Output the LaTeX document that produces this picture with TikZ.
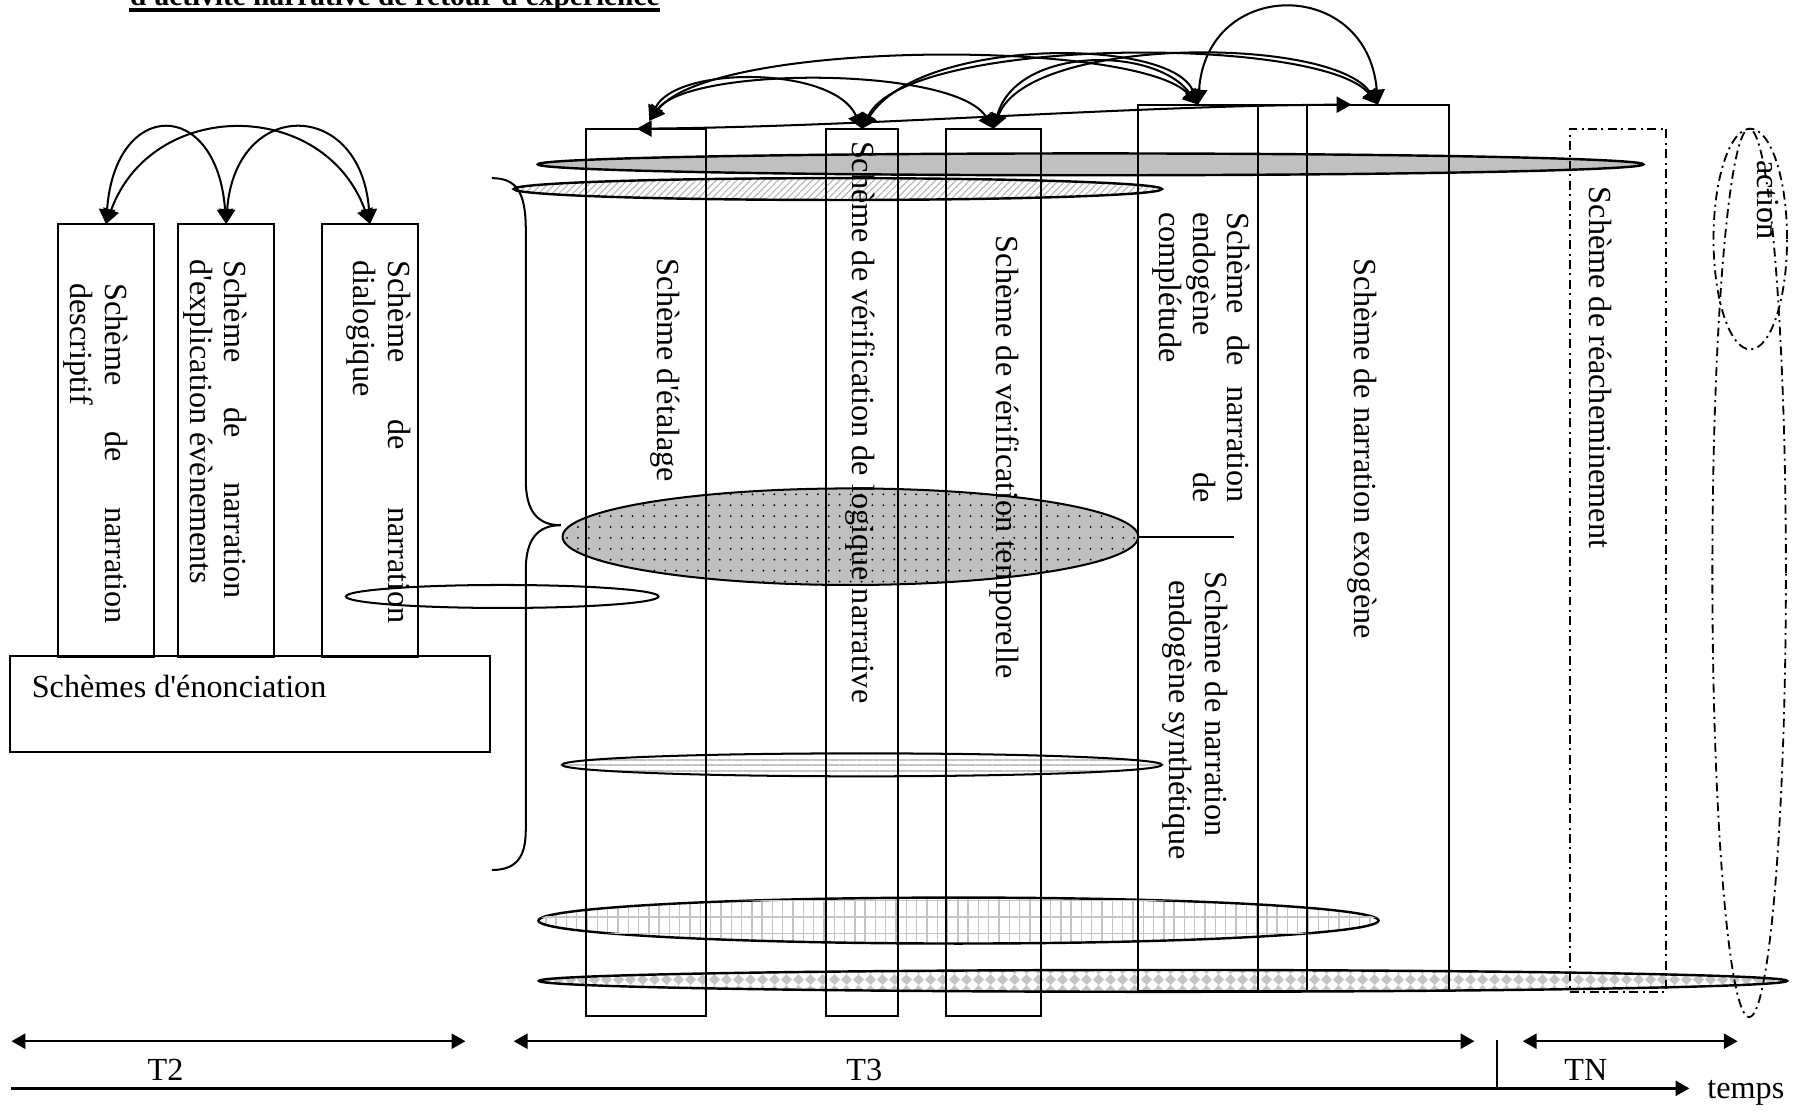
\documentclass[tikz,border=0pt]{standalone}
\usepackage{fontspec}
\setmainfont{Liberation Serif}[Ligatures=TeXOff]
\usetikzlibrary{arrows.meta,patterns,patterns.meta}
\definecolor{fillgray}{RGB}{192,192,192}
\definecolor{patgray}{RGB}{196,196,196}
\definecolor{hatchgray}{RGB}{185,185,185}
\newcommand\myfnt{\fontsize{7.97pt}{9.2pt}\selectfont}
\newcommand\mytitlefnt{\fontsize{7.27pt}{8pt}\selectfont\bfseries}
\pgfdeclarepatternformonly{mydiamonds}{\pgfqpoint{0pt}{0pt}}{\pgfqpoint{2.85pt}{2.7pt}}{\pgfqpoint{2.85pt}{2.7pt}}{%
  \pgfpathmoveto{\pgfqpoint{1.425pt}{0pt}}%
  \pgfpathlineto{\pgfqpoint{2.85pt}{1.35pt}}%
  \pgfpathlineto{\pgfqpoint{1.425pt}{2.7pt}}%
  \pgfpathlineto{\pgfqpoint{0pt}{1.35pt}}%
  \pgfpathclose\pgfusepath{fill}}
\tikzset{
  boxnode/.style={draw, line width=0.5pt, inner sep=0pt, outer sep=0pt},
  dashdotline/.style={line width=0.45pt, dash pattern=on 2.2pt off 1.1pt on 0.5pt off 1.1pt},
  vtxt/.style={rotate=-90, anchor=base west, inner sep=0pt, font=\myfnt},
  htxt/.style={inner sep=0pt, font=\myfnt},
  arcarrow/.style={line width=0.5pt, {Triangle[length=1.3mm,width=1.4mm]}-{Triangle[length=1.3mm,width=1.4mm]}},
  tarrow/.style={line width=0.6pt, {Triangle[length=1.2mm,width=1.3mm]}-{Triangle[length=1.2mm,width=1.3mm]}},
  axisarrow/.style={line width=0.6pt, -{Triangle[length=1.2mm,width=1.3mm]}},
  ellline/.style={draw, line width=0.6pt}
}
\begin{document}
\begin{tikzpicture}[x=0.1mm,y=-0.1mm]
\useasboundingbox (0,0) rectangle (1568,971);
\clip (0,0) rectangle (1568,971);

% title (cut at top, as in the reference)
\node[anchor=base west, inner sep=0pt, font=\mytitlefnt] (title) at (112.5,5) {d'activité narrative de retour d'expérience};
\draw[line width=0.3mm] ([yshift=-0.37mm]title.base west) -- ([yshift=-0.37mm]title.base east);

% ellipses
\path[ellline, fill=fillgray] (949,143) ellipse [x radius=48.1mm, y radius=0.95mm];
\path[ellline, pattern={Lines[angle=45,distance=1.2pt,line width=0.3pt]}, pattern color=hatchgray] (729,164.5) ellipse [x radius=28.2mm, y radius=0.95mm];
\path[draw, line width=0.5pt, fill=fillgray, postaction={pattern={Dots[radius=0.25pt,distance=2.7pt]}, pattern color=black}] (740,467) ellipse [x radius=25.05mm, y radius=4.2mm];
\draw[line width=0.5pt] (437,519) ellipse [x radius=13.6mm, y radius=1mm];
\path[draw, line width=0.5pt, pattern={Lines[angle=0,distance=1.4pt,line width=0.5pt]}, pattern color=patgray] (750,665.5) ellipse [x radius=26.1mm, y radius=1mm];
\path[ellline, pattern={Lines[angle=90,distance=2.55pt,line width=0.35pt]}, pattern color=patgray,
  postaction={pattern={Lines[angle=0,distance=4.1pt,line width=0.35pt]}, pattern color=patgray}] (834,801) ellipse [x radius=36.55mm, y radius=2mm];
\path[ellline, pattern=mydiamonds, pattern color=patgray] (1012,853.5) ellipse [x radius=54.3mm, y radius=0.95mm];

% left boxes
\node[boxnode, minimum width=8.35mm, minimum height=37.7mm] (bA) at (92.25,383.5) {};
\node[boxnode, minimum width=8.35mm, minimum height=37.7mm] (bB) at (196.75,383.5) {};
\node[boxnode, minimum width=8.4mm, minimum height=37.7mm] (bC) at (322,383.5) {};
\node[boxnode, minimum width=41.75mm, minimum height=8.35mm] (bEn) at (217.25,612.75) {};

% middle boxes
\node[boxnode, minimum width=10.4mm, minimum height=77.2mm] (bEt) at (562,498) {};
\node[boxnode, minimum width=6.2mm, minimum height=77.2mm] (bLo) at (750,498) {};
\node[boxnode, minimum width=8.3mm, minimum height=77.2mm] (bTe) at (864.5,498) {};
\node[boxnode, minimum width=10.5mm, minimum height=77.1mm] (bCo) at (1042.5,476.5) {};
\node[boxnode, minimum width=12.4mm, minimum height=77.1mm] (bEx) at (1199,476.5) {};
\draw[line width=0.5pt] (bCo.north east) -- (bEx.north west);
\draw[line width=0.5pt] (bCo.south east) -- (bEx.south west);
\coordinate (sepEnd) at (1074,467);
\draw[line width=0.5pt] (bCo.west |- sepEnd) -- (sepEnd);

% dash-dot shapes
\node[boxnode, dashdotline, minimum width=8.4mm, minimum height=75.1mm] (bRe) at (1408,487.5) {};
\draw[dashdotline] (1523,208) ellipse [x radius=3.2mm, y radius=9.6mm];
\draw[dashdotline] (1522,498.5) ellipse [x radius=3.2mm, y radius=38.65mm];

% brace
\draw[line width=0.5pt] (428,155) .. controls (450,155) and (457.5,168) .. (457.5,200) -- (457.5,418)
  .. controls (457.5,445) and (468,457) .. (488,457)
  .. controls (468,457) and (457.5,469) .. (457.5,496) -- (457.5,722)
  .. controls (457.5,745) and (450,757) .. (428,757);

% texts left
\node[vtxt] (tA1) at (91.5,246) {\makebox[29.6mm][s]{Schème de narration}};
\node[vtxt] (tA2) at (61.5,246) {descriptif};
\node[vtxt] (tB1) at (195.5,226) {\makebox[29.4mm][s]{Schème de narration}};
\node[vtxt] (tB2) at (165.5,225) {d'explication évènements};
\node[vtxt] (tC1) at (338,226) {\makebox[31.6mm][s]{Schème de narration}};
\node[vtxt] (tC2) at (308,226) {dialogique};
\node[htxt, anchor=base west] (tEn) at (27,606.5) {Schèmes d'énonciation};

% texts middle
\node[vtxt] (tEt) at (572.5,224.6) {Schème d'étalage};
\node[vtxt] (tLo) at (741.5,122) {Schème de vérification de logique narrative};
\node[vtxt] (tTe) at (867.5,204.6) {Schème de vérification temporelle};
\node[vtxt] (tCo1) at (1068.5,184) {\makebox[25.25mm][s]{Schème de narration}};
\node[vtxt] (tCo2) at (1038.5,184) {\makebox[25.25mm][s]{endogène de}};
\node[vtxt] (tCo3) at (1008.5,184) {complétude};
\node[vtxt] (tSy1) at (1049,497) {Schème de narration};
\node[vtxt] (tSy2) at (1017.5,504) {endogène synthétique};
\node[vtxt] (tEx) at (1178.5,224.5) {Schème de narration exogène};
\node[vtxt] (tRe) at (1383.5,162) {Schème de réacheminement};
\node[vtxt] (tAc) at (1529.5,139) {action};

% arcs left
\draw[arcarrow] (bA.north) .. controls +(8,-110) and +(-8,-110) .. (bB.north);
\draw[arcarrow] (bA.north) .. controls +(40,-110) and +(-40,-110) .. (bC.north);
\draw[arcarrow] (bB.north) .. controls +(8,-110) and +(-8,-110) .. (bC.north);

% arcs middle
\coordinate (pE) at (565,105);
\coordinate (pE2) at (554,112);
\coordinate (pX2) at (1176,91);
\draw[arcarrow] (pE) .. controls (588,57) and (725,57) .. (bLo.north);
\draw[arcarrow] (pE) .. controls (600,57.5) and (830,57.5) .. (bTe.north);
\draw[arcarrow] (pE) .. controls (620,34) and (990,34) .. (bCo.north);
\draw[arcarrow] (bLo.north) .. controls (800,32) and (1020,32) .. (bCo.north);
\draw[arcarrow] (bLo.north) .. controls (790,31) and (1150,31) .. (bEx.north);
\draw[arcarrow] (bTe.north) .. controls (885,40) and (1005,40) .. (bCo.north);
\draw[arcarrow] (bTe.north) .. controls (895,31) and (1160,31) .. (bEx.north);
\draw[arcarrow] (bCo.north) .. controls (1050,-20) and (1190,-20) .. (bEx.north);
\draw[arcarrow] (pE2) .. controls (760,110) and (980,92) .. (pX2);

% time axis
\coordinate (t2a) at (10,906);
\coordinate (t2b) at (405,906);
\coordinate (t3a) at (447,906);
\coordinate (t3b) at (1283,906);
\coordinate (tna) at (1325,906);
\coordinate (tnb) at (1512,906);
\coordinate (ticka) at (1303,905);
\coordinate (tickb) at (1303,947);
\coordinate (axa) at (10,947);
\coordinate (axb) at (1470,947);
\draw[tarrow] (t2a) -- (t2b);
\draw[tarrow] (t3a) -- (t3b);
\draw[tarrow] (tna) -- (tnb);
\draw[line width=0.5pt] (ticka) -- (tickb);
\draw[axisarrow] (axa) -- (axb);
\node[htxt, anchor=base] (lT2) at (144,940) {T2};
\node[htxt, anchor=base] (lT3) at (752,940) {T3};
\node[htxt, anchor=base] (lTN) at (1380,940) {TN};
\node[htxt, anchor=base west] (ltemps) at (1485,955.6) {temps};
\end{tikzpicture}
\end{document}
